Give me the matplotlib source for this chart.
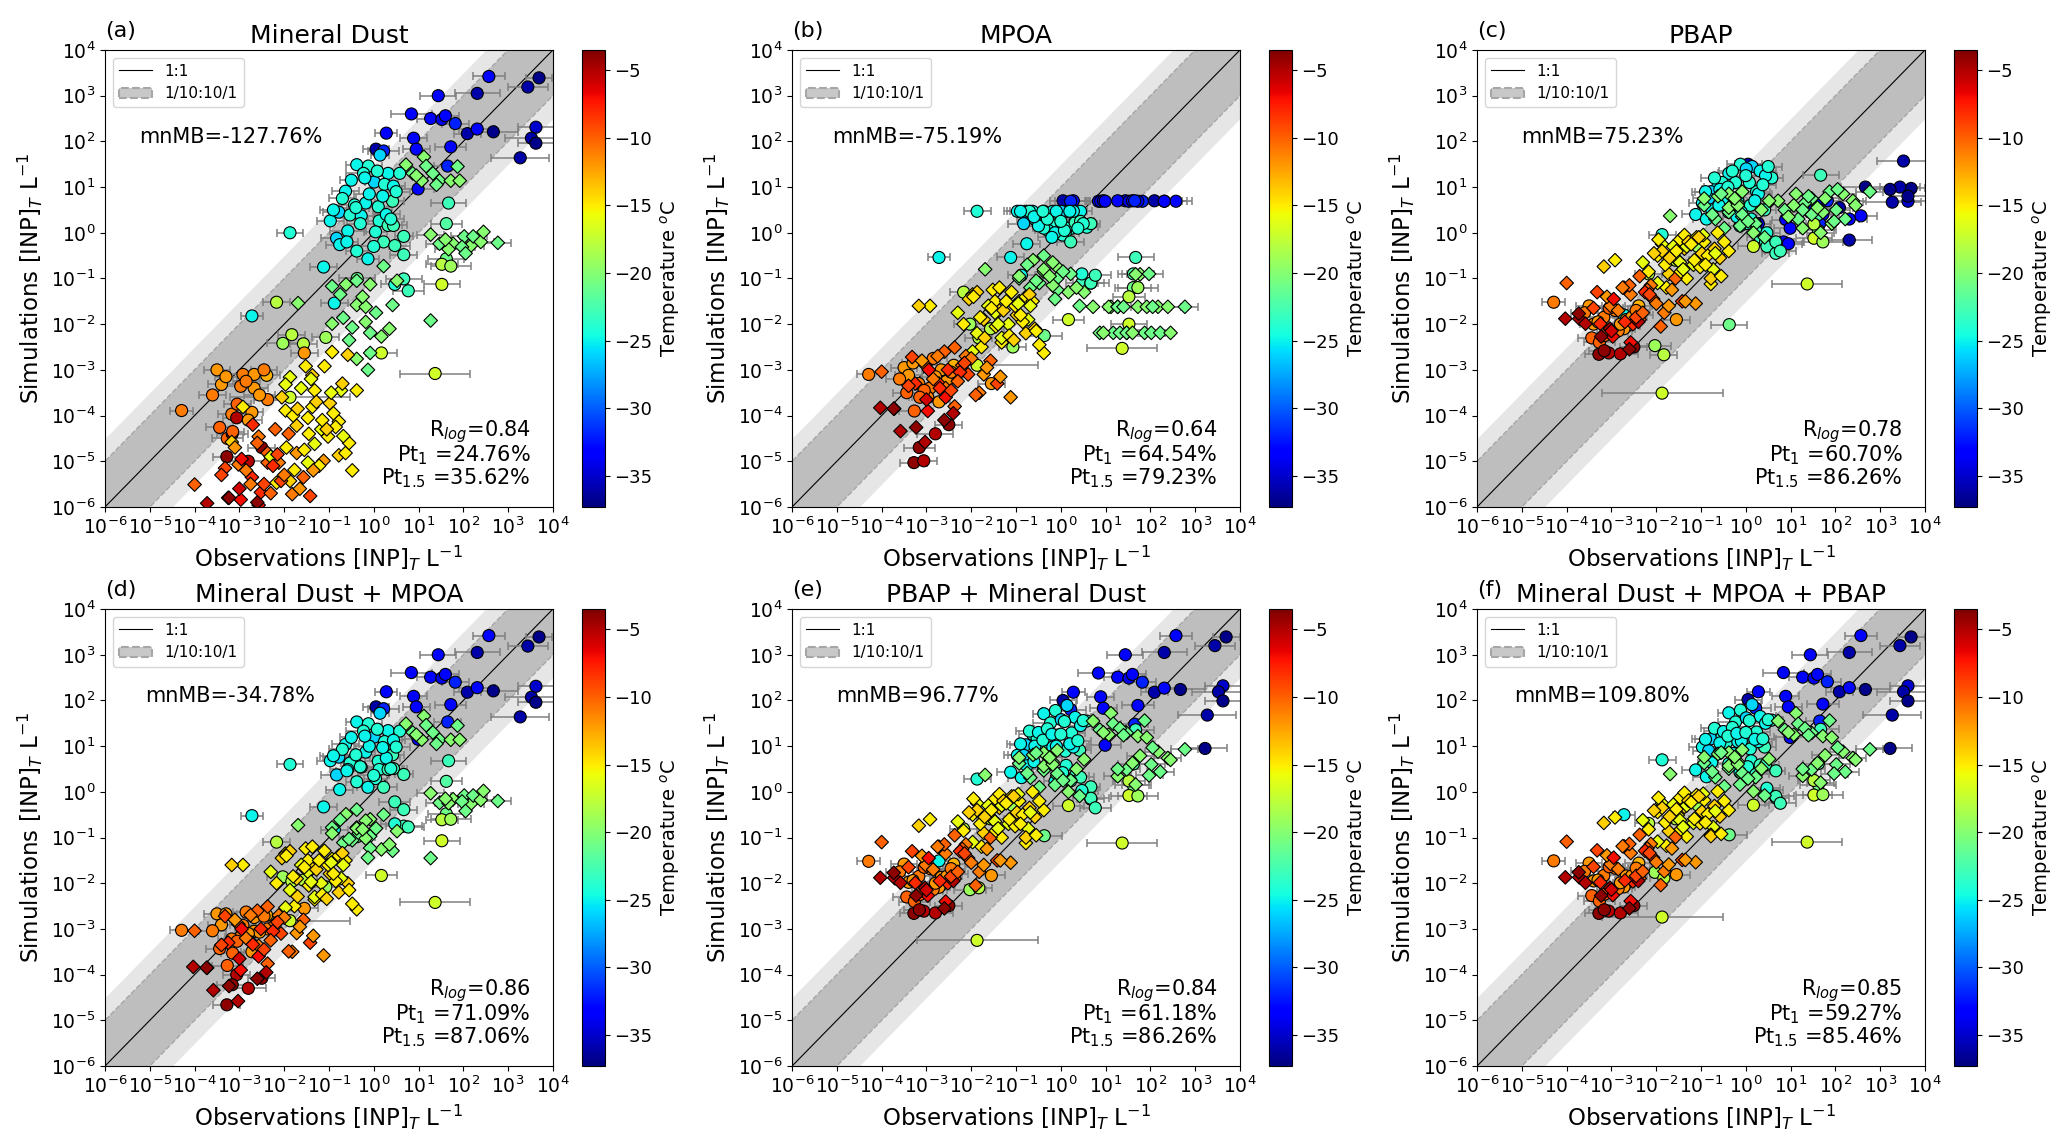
import numpy as np
import matplotlib
matplotlib.use("Agg")
import matplotlib.pyplot as plt
from matplotlib.lines import Line2D
from matplotlib.patches import Patch
from matplotlib.colors import Normalize
from matplotlib.cm import ScalarMappable
from matplotlib.ticker import FixedLocator, NullLocator, LogFormatterSciNotation

nan = np.nan

# ============================================================
# DATA  (log10 values; same observations in all panels)
# groups: blue circles, cyan circles, green diamonds, yellow-green circles,
#         yellow diamonds, orange circles, orange/red diamonds, dark red,
#         then extra yellow / orange diamonds, cyan / orange circles, green diamonds
# ============================================================
obs_log10 = [
    2.57, 3.69, 3.44, 2.31, 1.44, 0.84, 3.62, 3.52, 3.62, 3.27,
    2.67, 2.09, 2.31, 1.27, 1.52, 1.60, 1.82, 0.28, 0.89, 0.05,
    0.22, 0.95, 1.72, 1.65, 0.99, 3.22,
    -0.38, -0.12, 0.14, 0.32, 0.58, -0.63, -0.23, 0.01, 0.24, 0.44,
    -0.43, -0.18, 0.10, 0.42, -0.97, -0.78, -0.53, -0.28, 0.12, 0.32,
    -0.58, 0.04, 0.44, 0.67, -0.83, -0.76, -0.38, 0.22, 0.47, 0.67,
    -0.13, -1.12, 0.67, 0.47, 0.77, -0.88, -1.87, -2.72, 1.67, 1.62,
    1.62,
    0.72, 0.87, 1.12, 1.17, 1.07, 1.47, 1.72, 1.87, 1.92, 1.32,
    1.27, 1.47, 1.77, 2.02, 2.17, 2.22, 2.39, 2.77, 1.67, 1.97,
    -0.93, -0.62, -0.38, -0.08, 0.22, 0.52, 0.42, -0.38, -0.68, -0.93,
    -0.48, -0.18, -0.08, 0.17, -0.08, -0.38, -0.13, -1.69, 1.27, -0.18,
    -2.17, -2.03, -1.83, -1.57, -1.07, 0.17, 1.37, 1.52, 1.52, 1.72, -1.87, -0.37,
    -0.93, -0.58, -0.38, -0.73, -1.10, -1.37, -1.52, -1.87, -1.32, -0.98,
    -0.78, -1.17, -1.47, -1.72, -1.97, -1.32, -1.02, -0.78, -0.63, -1.47,
    -1.77, -1.87, -2.17, -2.92, -3.17, -1.97, -1.37,
    -3.50, -4.29, -3.40, -2.92, -2.67, -2.39, -2.97, -2.67, -2.37, -3.44, -3.17, -2.72, -3.27, -1.55,
    -4.00, -3.32, -3.02, -2.72, -2.37, -2.07, -1.82, -1.57, -1.42, -2.52,
    -2.57, -2.37, -2.12, -1.72, -1.12, -2.97, -3.25, -3.72, -2.57, -2.20,
    -4.03, -3.73, -3.58, -3.23, -3.03, -2.60, -2.40, -3.28, -3.06, -3.16, -2.80, -2.50,
    -2.05, -1.80, -1.62, -1.45, -1.28, -1.15, -0.95, -0.85, -0.70, -0.55,
    -2.30, -1.95, -1.70, -1.55, -1.40, -1.22, -1.05, -0.90, -0.68, -0.48,
    -3.10, -2.85, -2.60, -2.45, -2.25, -2.00, -1.90, -1.65, -3.40, -2.95,
    -2.75, -2.30, -3.00, -2.15, -1.35, -2.70,
    -0.70, -0.50, -0.30, -0.10, 0.08, 0.28, 0.50, -0.60, -0.40, -0.20, 0.00, 0.20, 0.38, -0.90,
    -3.60, -3.30, -3.05, -2.85, -2.55, -2.45, -3.15, -2.80,
    0.95, 1.40, 1.60, 2.05, 2.45, -0.75, -0.25, 0.05, 0.35, -0.55,
]

# half width of the horizontal error bar, in decades
xerr_dec = [
    0.35, 0.30, 0.45, 0.50, 0.40, 0.45, 0.40, 0.60, 0.40, 0.65,
    0.55, 0.30, 0.40, 0.30, 0.35, 0.30, 0.30, 0.25, 0.30, 0.30,
    0.35, 0.30, 0.35, 0.30, 0.35, 0.50,
    0.25, 0.30, 0.20, 0.35, 0.25, 0.30, 0.40, 0.20, 0.30, 0.25,
    0.35, 0.20, 0.30, 0.25, 0.30, 0.35, 0.20, 0.30, 0.25, 0.30,
    0.40, 0.25, 0.30, 0.20, 0.35, 0.30, 0.25, 0.30, 0.35, 0.30,
    0.25, 0.30, 0.40, 0.30, 0.35, 0.30, 0.30, 0.25, 0.40, 0.35,
    0.40,
    0, 0, 0, 0, 0, 0, 0, 0, 0, 0,
    0.30, 0.30, 0.30, 0.30, 0.30, 0.30, 0.30, 0.30, 0.30, 0.30,
    0, 0, 0, 0, 0, 0, 0, 0, 0, 0,
    0, 0, 0, 0, 0, 0, 0, 0, 0, 0,
    0.30, 0.35, 0.30, 0.30, 0.30, 0.35, 0.78, 0.40, 0.35, 0.45, 1.35, 0.40,
    0, 0, 0, 0, 0, 0, 0, 0, 0, 0,
    0, 0, 0, 0, 0, 0, 0, 0, 0, 0,
    0, 0, 0, 0, 0, 0, 0,
    0.30, 0.25, 0.30, 0.30, 0.25, 0.30, 0.35, 0.30, 0.30, 0.30, 0.30, 0.25, 0.35, 0.30,
    0, 0, 0, 0, 0, 0, 0, 0, 0, 0,
    0, 0, 0, 0, 0, 0, 0, 0, 0, 0,
    0, 0, 0, 0, 0, 0, 0, 0.30, 0.30, 0.35, 0.40, 0.30,
    0, 0, 0, 0, 0, 0, 0, 0, 0, 0,
    0, 0, 0, 0, 0, 0, 0, 0, 0, 0,
    0, 0, 0, 0, 0, 0, 0, 0, 0, 0,
    0, 0, 0, 0, 0, 0,
    0.30, 0.25, 0.30, 0.35, 0.25, 0.30, 0.30, 0.25, 0.30, 0.30, 0.35, 0.25, 0.30, 0.30,
    0.30, 0.25, 0.30, 0.30, 0.35, 0.30, 0.25, 0.30,
    0, 0, 0, 0, 0, 0, 0, 0, 0, 0,
]

temperature = [
    -33, -37, -36, -36, -33, -33, -35, -36, -37, -36,
    -37, -36, -33, -33, -34, -33, -32, -33, -33, -36,
    -32, -33, -33, -32, -33, -37,
    -25, -24, -26, -25, -24, -25, -24, -26, -24, -25,
    -24, -25, -24, -23, -25, -26, -24, -25, -24, -23,
    -25, -24, -23, -23, -26, -25, -24, -23, -23, -23,
    -25, -25, -23, -24, -23, -25, -24, -25, -23, -22,
    -21,
    -20, -21, -20, -21, -20, -21, -20, -21, -20, -21,
    -20, -21, -20, -21, -20, -21, -20, -21, -20, -21,
    -21, -20, -21, -20, -21, -20, -21, -20, -21, -20,
    -21, -20, -21, -20, -21, -20, -21, -20, -21, -20,
    -18, -19, -18, -18, -19, -17, -17, -17, -18, -19, -17, -21,
    -15, -14, -15, -16, -15, -14, -15, -16, -15, -14,
    -15, -16, -15, -14, -15, -16, -15, -14, -15, -16,
    -15, -14, -15, -15, -14, -16, -15,
    -12, -11, -12, -11, -12, -13, -11, -12, -11, -10, -11, -12, -10, -12,
    -10, -9, -11, -8, -10, -9, -11, -10, -9, -8,
    -11, -10, -11, -12, -12, -7, -8, -5, -7, -10,
    -5, -4, -5, -4, -5, -4, -5, -4, -5, -4, -5, -4,
    -14, -15, -16, -15, -14, -15, -16, -15, -14, -15,
    -16, -15, -14, -15, -16, -15, -14, -15, -16, -15,
    -12, -11, -10, -9, -8, -11, -10, -12, -9, -7,
    -11, -10, -6, -9, -12, -8,
    -24, -25, -24, -25, -24, -25, -24, -25, -24, -25, -24, -25, -24, -25,
    -11, -12, -10, -11, -12, -11, -10, -12,
    -20, -21, -20, -21, -20, -21, -20, -21, -20, -21,
]

# 'o' and 'D' are the two observation data sets
marker = (['o'] * 26 + ['o'] * 41 + ['D'] * 40 + ['o'] * 12 + ['D'] * 27
          + ['o'] * 14 + ['D'] * 20 + ['D'] * 7 + ['o'] * 5
          + ['D'] * 20 + ['D'] * 16 + ['o'] * 14 + ['o'] * 8 + ['D'] * 10)

sim_md = [
    3.42, 3.39, 3.19, 3.05, 3.00, 2.60, 2.31, 2.07, 1.96, 1.64,
    2.21, 2.17, 2.27, 2.50, 2.48, 2.56, 2.39, 2.18, 2.07, 1.83,
    1.79, 1.83, 1.88, 1.46, 0.96, nan,
    1.49, 1.46, 1.70, 1.30, 1.30, 0.91, 1.30, 1.11, 1.06, 1.02,
    0.61, 0.65, 0.57, 0.69, 0.26, 0.45, 0.39, 0.37, 0.26, 0.16,
    0.04, 0.02, 0.16, -0.08, -0.12, -0.26, -0.40, -0.20, -0.28, -0.48,
    -0.57, -0.75, -1.01, -1.13, -1.27, -1.54, 0.00, -1.82, 0.65, 0.20,
    -0.57,
    1.49, 1.30, 1.66, 1.46, 1.14, 1.14, 1.14, 1.45, 1.14, 1.30,
    -0.04, -0.24, -0.24, -0.08, -0.28, -0.08, -0.20, -0.22, -0.36, -0.31,
    -1.17, -1.13, -1.05, -1.13, -0.73, -1.05, -1.58, -1.58, -1.86, -1.99,
    -2.07, -1.95, -2.19, -2.27, -2.63, -2.76, -3.00, -1.54, -1.92, -1.62,
    -1.52, -2.42, -2.23, -2.43, -2.29, -2.63, -3.08, -1.13, -0.69, -0.73, -3.60, -1.00,
    -2.61, -2.67, -3.45, -3.45, -2.92, -3.12, -2.92, -3.16, -3.45, -3.73,
    -4.13, -4.30, -4.05, -4.22, -3.89, -4.62, -4.46, -4.87, -4.82, -5.03,
    -5.19, -5.43, -5.47, -3.81, -4.58, -3.32, -3.81,
    -3.00, -3.89, -3.32, -3.10, -3.10, -3.12, -3.36, -3.40, -3.65, -4.26, -3.97, -3.93, -4.50, -2.63,
    -5.51, -5.15, -5.07, -5.35, -5.03, -5.43, -5.72, -5.35, -5.76, -5.68,
    -4.46, -4.82, -5.03, -4.82, -4.99, -5.84, -5.80, -5.92, -5.96, -4.30,
    nan, nan, nan, -5.80, nan, -5.90, nan, -4.90, -4.05, -4.40, -5.00, -4.70,
    -3.60, -4.00, -3.40, -4.40, -3.70, -4.10, -3.50, -4.25, -3.30, -4.60,
    -4.90, -4.70, -3.85, -4.75, -3.20, -5.10, -4.30, -3.95, -4.45, -5.20,
    -4.70, -5.20, -4.60, -5.50, -5.10, -5.30, -4.40, -5.60, -5.30, -4.95,
    -5.50, -5.70, -5.60, -4.85, -5.20, -4.20,
    0.75, 1.15, 0.20, 0.85, 1.35, 0.40, 0.90, -0.20, 0.55, 1.20, -0.30, 0.80, 0.30, 0.50,
    -3.55, -3.15, -3.75, -3.25, -3.55, -3.00, -4.35, -4.10,
    1.25, 1.05, -0.15, -0.45, 0.02, -1.35, -1.40, -1.75, -2.10, -2.35,
]

sim_mpoa = [
    0.69, nan, nan, 0.69, 0.70, 0.69, nan, nan, nan, nan,
    nan, 0.70, 0.69, 0.70, 0.69, 0.70, 0.69, 0.70, 0.69, 0.70,
    0.69, 0.70, 0.69, 0.70, 0.69, nan,
    0.47, 0.30, 0.47, 0.25, 0.12, 0.47, 0.20, 0.47, 0.10, 0.47,
    0.15, 0.47, 0.00, 0.20, 0.47, 0.47, 0.25, 0.05, 0.10, 0.22,
    0.30, -0.05, 0.25, 0.20, 0.20, -0.24, 0.10, -0.20, -1.10, -1.10,
    0.00, -0.54, -1.10, -0.90, -0.93, -0.93, 0.47, -0.54, -0.54, -0.90,
    -1.20,
    -1.62, -2.19, -1.62, -2.19, -1.62, -2.19, -1.62, -2.19, -1.62, -2.19,
    -1.62, -2.19, -0.91, -2.19, -1.62, -2.19, -1.62, -1.62, -0.91, -0.90,
    -1.00, -0.60, -0.50, -0.75, -0.90, -1.30, -1.60, -0.85, -1.20, -0.95,
    -1.10, -0.65, -1.00, -1.30, -1.25, -0.80, -1.45, -0.80, -1.62, -1.15,
    -1.30, -2.00, -2.30, -2.10, -2.50, -1.90, -2.53, -2.00, -1.40, -1.20, -2.90, -2.25,
    -1.50, -2.10, -2.63, -1.90, -1.30, -1.70, -1.25, -2.20, -2.40, -1.80,
    -1.40, -2.00, -1.50, -1.90, -1.35, -2.30, -1.60, -2.20, -1.50, -1.75,
    -2.50, -1.30, -2.00, -1.60, -1.60, -2.60, -1.20,
    -2.95, -3.10, -3.12, -3.40, -3.00, -2.90, -3.60, -3.30, -3.10, -3.50, -3.30, -3.70, -3.90, -3.30,
    -3.04, -2.72, -2.90, -3.30, -2.51, -3.10, -3.50, -2.80, -3.30, -3.00,
    -3.40, -3.80, -2.70, -3.10, -3.60, -3.90, -3.30, -3.85, -3.60, -2.90,
    -3.83, -3.85, -4.34, -4.26, -4.58, -4.10, -3.95, -5.03, -4.99, -4.70, -4.40, -4.20,
    -1.45, -1.85, -1.60, -2.05, -1.70, -2.25, -1.55, -1.95, -1.35, -2.15,
    -1.75, -1.40, -2.30, -1.65, -2.00, -1.50, -2.35, -1.80, -1.60, -2.45,
    -2.80, -3.20, -2.60, -3.45, -3.05, -2.75, -3.55, -2.95, -3.35, -3.00,
    -2.70, -3.25, -3.65, -2.85, -3.15, -3.40,
    0.47, 0.15, 0.30, 0.47, 0.05, 0.47, 0.20, 0.35, 0.47, -0.10, 0.25, 0.47, 0.10, 0.47,
    -3.20, -2.85, -3.45, -2.75, -3.25, -3.05, -3.60, -3.15,
    -2.19, -1.62, -2.19, -1.62, -2.19, -0.70, -0.95, -0.85, -1.20, -1.05,
]

sim_pbap = [
    0.37, 0.97, 1.00, -0.16, 0.45, -0.20, 0.69, 1.57, 0.80, 0.67,
    1.00, 0.55, 0.30, 0.53, 0.50, 0.63, 0.70, 0.20, 0.29, 1.50,
    0.20, -0.24, 0.40, 0.20, 0.10, 0.95,
    1.30, 1.50, 1.45, 1.35, 1.20, 1.00, 1.10, 1.40, 0.90, 1.25,
    0.80, 0.70, 0.60, 0.50, 0.65, 0.90, 1.10, 0.55, 0.30, -0.10,
    0.95, 0.20, -0.20, -0.35, 0.75, 0.50, 0.45, 0.05, -0.30, -0.45,
    0.15, 0.40, -0.20, 0.00, -0.40, 0.30, -0.04, -1.80, 1.26, 0.40,
    0.05,
    0.70, 0.50, 0.85, 0.30, 0.60, 0.75, 0.45, 0.90, 0.20, 0.65,
    0.10, 0.40, 0.75, 0.50, 0.85, 0.30, 0.70, 0.90, 0.00, 0.25,
    0.60, 0.80, 0.45, 0.90, 0.20, 0.70, -0.10, 0.55, 0.30, 0.75,
    0.10, 0.65, 0.35, 0.00, 0.40, 0.85, 0.15, 0.37, 0.50, 0.60,
    -0.90, -2.47, -2.67, -0.60, -0.30, -0.30, -1.12, -0.12, 0.19, -0.20, -3.51, -2.01,
    -0.20, -0.55, -0.40, -0.80, -0.10, -0.35, -0.60, -0.25, -1.00, -0.45,
    -1.12, -0.70, -0.15, -0.90, -0.50, -0.30, -0.75, -1.00, 0.00, -0.65,
    -1.20, -0.40, -0.85, -0.60, -0.74, -1.10, -0.05,
    -1.60, -1.52, -2.00, -1.70, -1.90, -1.60, -2.20, -2.05, -1.80, -2.30, -1.85, -2.10, -2.40, -1.90,
    -1.10, -1.30, -1.60, -1.20, -0.95, -1.45, -1.75, -1.00, -1.50, -2.00,
    -1.35, -1.90, -1.15, -1.60, -1.55, -2.27, -1.99, -1.88, -2.40, -1.25,
    -1.88, -1.77, -1.99, -2.27, -2.10, -2.55, -1.95, -2.66, -2.63, -2.58, -2.65, -2.50,
    -0.45, -0.70, -0.30, -0.85, -0.20, -0.60, -0.05, -0.50, -0.35, -0.95,
    -0.65, -0.15, -0.55, -0.40, -0.80, -0.25, -0.10, -0.70, -0.45, -0.20,
    -1.40, -1.70, -1.15, -1.85, -1.30, -1.55, -2.05, -1.25, -1.65, -1.45,
    -1.20, -1.75, -2.15, -1.35, -1.50, -1.95,
    1.20, 0.75, 1.35, 0.45, 1.10, 0.85, 1.45, 0.60, 1.00, 0.35, 1.25, 0.70, 1.05, 0.90,
    -1.75, -1.95, -1.65, -2.15, -1.85, -1.70, -2.25, -2.00,
    0.35, 0.80, 0.55, 0.95, 0.60, 0.40, 0.75, 0.25, 0.50, 0.85,
]

sim_md_mpoa = [
    3.42, 3.39, 3.19, 3.05, 3.00, 2.61, 2.31, 2.07, 1.96, 1.64,
    2.21, 2.18, 2.28, 2.51, 2.49, 2.57, 2.40, 2.19, 2.09, 1.86,
    1.82, 1.86, 1.91, 1.53, 1.15, nan,
    1.53, 1.49, 1.72, 1.34, 1.33, 1.04, 1.33, 1.20, 1.10, 1.13,
    0.74, 0.87, 0.67, 0.81, 0.68, 0.76, 0.63, 0.54, 0.49, 0.49,
    0.49, 0.29, 0.51, 0.38, 0.37, 0.05, 0.22, 0.10, -0.22, -0.39,
    0.10, -0.33, -0.75, -0.70, -0.77, -0.83, 0.60, -0.52, 0.68, 0.23,
    -0.48,
    1.49, 1.30, 1.66, 1.46, 1.14, 1.14, 1.14, 1.45, 1.14, 1.30,
    -0.03, -0.24, -0.16, -0.08, -0.26, -0.08, -0.18, -0.20, -0.25, -0.21,
    -0.78, -0.49, -0.39, -0.60, -0.50, -0.86, -1.29, -0.78, -1.11, -0.91,
    -1.06, -0.63, -0.97, -1.26, -1.23, -0.80, -1.44, -0.73, -1.45, -1.02,
    -1.10, -1.86, -1.96, -1.93, -2.08, -1.83, -2.42, -1.07, -0.61, -0.60, -2.82, -0.98,
    -1.47, -2.00, -2.57, -1.89, -1.29, -1.68, -1.24, -2.15, -2.36, -1.79,
    -1.40, -2.00, -1.50, -1.90, -1.35, -2.30, -1.60, -2.20, -1.50, -1.75,
    -2.50, -1.30, -2.00, -1.60, -1.60, -2.53, -1.20,
    -2.67, -3.03, -2.91, -2.92, -2.75, -2.70, -3.17, -3.05, -3.00, -3.43, -3.22, -3.50, -3.80, -2.55,
    -3.04, -2.72, -2.90, -3.30, -2.51, -3.10, -3.50, -2.80, -3.30, -3.00,
    -3.37, -3.76, -2.70, -3.09, -3.58, -3.90, -3.30, -3.85, -3.60, -2.88,
    -3.83, -3.85, -4.34, -4.25, -4.58, -4.09, -3.95, -4.66, -4.00, -4.22, -4.30, -4.08,
    -1.45, -1.85, -1.60, -2.05, -1.70, -2.25, -1.55, -1.95, -1.34, -2.15,
    -1.75, -1.40, -2.29, -1.65, -1.97, -1.50, -2.34, -1.79, -1.60, -2.45,
    -2.80, -3.20, -2.60, -3.45, -3.05, -2.75, -3.49, -2.95, -3.35, -3.00,
    -2.70, -3.25, -3.65, -2.85, -3.15, -3.34,
    0.93, 1.19, 0.55, 1.00, 1.37, 0.74, 0.98, 0.46, 0.81, 1.22, 0.36, 0.97, 0.51, 0.79,
    -3.04, -2.67, -3.27, -2.63, -3.07, -2.72, -3.53, -3.10,
    1.25, 1.05, -0.15, -0.42, 0.02, -0.61, -0.82, -0.80, -1.15, -1.03,
]

sim_pbap_md = [
    3.42, 3.39, 3.20, 3.05, 3.00, 2.60, 2.32, 2.19, 1.99, 1.68,
    2.24, 2.18, 2.27, 2.51, 2.49, 2.57, 2.40, 2.18, 2.08, 2.00,
    1.80, 1.83, 1.89, 1.48, 1.02, 0.95,
    1.71, 1.78, 1.89, 1.63, 1.55, 1.26, 1.51, 1.58, 1.29, 1.45,
    1.02, 0.98, 0.89, 0.91, 0.80, 1.03, 1.18, 0.77, 0.58, 0.35,
    1.00, 0.42, 0.32, 0.11, 0.80, 0.57, 0.51, 0.24, 0.01, -0.16,
    0.23, 0.43, -0.14, 0.03, -0.35, 0.31, 0.28, -1.51, 1.36, 0.61,
    0.14,
    1.55, 1.36, 1.72, 1.49, 1.25, 1.29, 1.22, 1.56, 1.19, 1.39,
    0.34, 0.49, 0.79, 0.60, 0.88, 0.44, 0.74, 0.93, 0.16, 0.36,
    0.62, 0.81, 0.47, 0.91, 0.25, 0.71, -0.09, 0.56, 0.31, 0.75,
    0.10, 0.65, 0.35, 0.00, 0.40, 0.85, 0.15, 0.37, 0.50, 0.60,
    -0.81, -2.14, -2.10, -0.59, -0.30, -0.30, -1.12, -0.08, 0.24, -0.09, -3.25, -0.96,
    -0.20, -0.55, -0.40, -0.80, -0.10, -0.35, -0.60, -0.25, -1.00, -0.45,
    -1.12, -0.70, -0.15, -0.90, -0.50, -0.30, -0.75, -1.00, 0.00, -0.65,
    -1.20, -0.40, -0.85, -0.60, -0.74, -1.10, -0.05,
    -1.58, -1.52, -1.98, -1.68, -1.87, -1.58, -2.17, -2.03, -1.79, -2.30, -1.85, -2.09, -2.40, -1.83,
    -1.10, -1.30, -1.60, -1.20, -0.95, -1.45, -1.75, -1.00, -1.50, -2.00,
    -1.35, -1.90, -1.15, -1.60, -1.55, -2.27, -1.99, -1.88, -2.40, -1.25,
    -1.88, -1.77, -1.99, -2.27, -2.10, -2.55, -1.95, -2.66, -2.61, -2.58, -2.65, -2.49,
    -0.45, -0.70, -0.30, -0.85, -0.20, -0.60, -0.05, -0.50, -0.35, -0.95,
    -0.65, -0.15, -0.55, -0.40, -0.80, -0.25, -0.10, -0.70, -0.45, -0.20,
    -1.40, -1.70, -1.15, -1.85, -1.30, -1.55, -2.05, -1.25, -1.65, -1.45,
    -1.20, -1.75, -2.15, -1.35, -1.50, -1.95,
    1.33, 1.30, 1.38, 1.00, 1.54, 0.98, 1.56, 0.66, 1.13, 1.26, 1.26, 1.05, 1.12, 1.05,
    -1.75, -1.94, -1.65, -2.14, -1.85, -1.68, -2.25, -2.00,
    1.30, 1.24, 0.63, 0.97, 0.70, 0.41, 0.75, 0.25, 0.50, 0.85,
]

sim_all = [
    3.42, 3.39, 3.20, 3.05, 3.00, 2.61, 2.32, 2.19, 1.99, 1.68,
    2.24, 2.19, 2.28, 2.51, 2.49, 2.57, 2.41, 2.19, 2.09, 2.02,
    1.83, 1.86, 1.92, 1.55, 1.19, 0.95,
    1.73, 1.79, 1.91, 1.65, 1.57, 1.33, 1.53, 1.62, 1.31, 1.50,
    1.08, 1.10, 0.94, 0.98, 0.98, 1.16, 1.22, 0.84, 0.68, 0.59,
    1.07, 0.55, 0.59, 0.46, 0.90, 0.64, 0.62, 0.38, 0.03, -0.13,
    0.43, 0.48, -0.10, 0.08, -0.25, 0.33, 0.70, -0.50, 1.37, 0.62,
    0.16,
    1.55, 1.36, 1.72, 1.49, 1.25, 1.29, 1.22, 1.56, 1.19, 1.39,
    0.35, 0.49, 0.80, 0.60, 0.88, 0.44, 0.74, 0.93, 0.20, 0.40,
    0.63, 0.83, 0.51, 0.92, 0.32, 0.72, -0.08, 0.57, 0.32, 0.76,
    0.12, 0.66, 0.36, 0.01, 0.41, 0.86, 0.16, 0.39, 0.50, 0.61,
    -0.69, -1.76, -1.89, -0.59, -0.29, -0.29, -1.10, -0.07, 0.25, -0.06, -2.74, -0.94,
    -0.18, -0.54, -0.40, -0.77, -0.07, -0.33, -0.51, -0.25, -0.98, -0.43,
    -0.94, -0.68, -0.13, -0.86, -0.44, -0.30, -0.69, -0.97, 0.01, -0.62,
    -1.18, -0.35, -0.82, -0.56, -0.68, -1.09, -0.02,
    -1.56, -1.51, -1.95, -1.67, -1.84, -1.56, -2.15, -2.00, -1.77, -2.27, -1.83, -2.08, -2.39, -1.81,
    -1.09, -1.28, -1.58, -1.19, -0.94, -1.44, -1.74, -0.99, -1.49, -1.96,
    -1.34, -1.89, -1.14, -1.59, -1.54, -2.26, -1.98, -1.87, -2.39, -1.24,
    -1.87, -1.76, -1.99, -2.27, -2.10, -2.55, -1.95, -2.66, -2.61, -2.58, -2.65, -2.49,
    -0.41, -0.67, -0.28, -0.82, -0.19, -0.59, -0.04, -0.49, -0.31, -0.92,
    -0.62, -0.13, -0.54, -0.38, -0.77, -0.23, -0.10, -0.67, -0.42, -0.20,
    -1.39, -1.69, -1.14, -1.84, -1.29, -1.54, -2.04, -1.24, -1.64, -1.44,
    -1.19, -1.74, -2.14, -1.34, -1.49, -1.94,
    1.39, 1.32, 1.41, 1.11, 1.56, 1.10, 1.58, 0.84, 1.22, 1.28, 1.30, 1.15, 1.16, 1.15,
    -1.74, -1.93, -1.64, -2.12, -1.84, -1.67, -2.24, -1.99,
    1.30, 1.24, 0.63, 0.97, 0.70, 0.44, 0.76, 0.29, 0.51, 0.86,
]

titles = ["Mineral Dust", "MPOA", "PBAP",
          "Mineral Dust + MPOA", "PBAP + Mineral Dust", "Mineral Dust + MPOA + PBAP"]
letters = ["(a)", "(b)", "(c)", "(d)", "(e)", "(f)"]
mnmb = ["-127.76%", "-75.19%", "75.23%", "-34.78%", "96.77%", "109.80%"]
r_log = ["0.84", "0.64", "0.78", "0.86", "0.84", "0.85"]
pt_1 = ["24.76%", "64.54%", "60.70%", "71.09%", "61.18%", "59.27%"]
pt_15 = ["35.62%", "79.23%", "86.26%", "87.06%", "86.26%", "85.46%"]
sims = [sim_md, sim_mpoa, sim_pbap, sim_md_mpoa, sim_pbap_md, sim_all]

n = len(obs_log10)
for arr in [xerr_dec, temperature, marker] + sims:
    assert len(arr) == n, len(arr)

# ============================================================
# PLOT
# ============================================================
obs = 10.0 ** np.array(obs_log10)
xd = np.array(xerr_dec)
temp = np.array(temperature)
shape = np.array(marker)
err_lo = obs - obs / 10.0 ** xd
err_hi = obs * 10.0 ** xd - obs

norm = Normalize(vmin=-37.3, vmax=-3.5)
cmap = plt.get_cmap("jet")

fig = plt.figure(figsize=(20.67, 11.41), dpi=100)
lefts = [0.0508, 0.3832, 0.7146]
bottoms = [0.5557, 0.0657]
w, h = 0.2167, 0.4005
decades = 10.0 ** np.arange(-6, 5)
line = 10.0 ** np.array([-7.0, 5.0])

for k in range(6):
    l = lefts[k % 3]
    b = bottoms[k // 3]
    ax = fig.add_axes([l, b, w, h])
    ax.set_xscale("log")
    ax.set_yscale("log")

    ax.fill_between(line, line / 10 ** 1.5, line * 10 ** 1.5, color="#e6e6e6", lw=0, zorder=0)
    ax.fill_between(line, line / 10, line * 10, facecolor="#bebebe",
                    edgecolor="#a6a6a6", linestyle="--", lw=1.0, zorder=0.5)
    ax.plot(line, line, color="k", lw=0.8, zorder=1)

    y = 10.0 ** np.array(sims[k])
    ok = (xd > 0) & np.isfinite(y)
    ax.errorbar(obs[ok], y[ok], xerr=[err_lo[ok], err_hi[ok]], fmt="none",
                ecolor="#808080", elinewidth=1.1, capsize=3, capthick=1.1, zorder=2)
    for m, s in [("o", 75), ("D", 48)]:
        sel = shape == m
        ax.scatter(obs[sel], y[sel], c=temp[sel], cmap=cmap, norm=norm, marker=m,
                   s=s, edgecolors="k", linewidths=0.8, zorder=3)

    ax.set_xlim(1e-6, 1e4)
    ax.set_ylim(1e-6, 1e4)
    for axis in (ax.xaxis, ax.yaxis):
        axis.set_major_locator(FixedLocator(decades))
        axis.set_minor_locator(NullLocator())
        axis.set_major_formatter(LogFormatterSciNotation())
    ax.tick_params(labelsize=13.5)
    ax.set_xlabel(r"Observations [INP]$_T$ L$^{-1}$", fontsize=16.5)
    ax.set_ylabel(r"Simulations [INP]$_T$ L$^{-1}$", fontsize=16.5)
    ax.set_title(titles[k], fontsize=18, pad=5)
    ax.text(0.0, 1.02, letters[k], transform=ax.transAxes, fontsize=16,
            ha="left", va="bottom")

    handles = [Line2D([], [], color="k", lw=0.8),
               Patch(facecolor="#c8c8c8", edgecolor="#a6a6a6", linestyle="--", lw=1.5)]
    ax.legend(handles, ["1:1", "1/10:10/1"], loc="upper left", fontsize=11,
              handlelength=2.2)

    ax.text(0.28, 0.81, "mnMB=" + mnmb[k], transform=ax.transAxes, fontsize=15,
            ha="center", va="center")
    ax.text(0.95, 0.164, r"R$_{log}$=" + r_log[k], transform=ax.transAxes,
            fontsize=15, ha="right", va="center")
    ax.text(0.95, 0.113, r"Pt$_1$ =" + pt_1[k], transform=ax.transAxes,
            fontsize=15, ha="right", va="center")
    ax.text(0.95, 0.063, r"Pt$_{1.5}$ =" + pt_15[k], transform=ax.transAxes,
            fontsize=15, ha="right", va="center")

    cax = fig.add_axes([l + w + 0.0140, b, 0.0111, h])
    cb = fig.colorbar(ScalarMappable(norm=norm, cmap=cmap), cax=cax)
    cb.set_ticks([-5, -10, -15, -20, -25, -30, -35])
    cb.ax.tick_params(labelsize=13)
    cb.set_label(r"Temperature $^o$C", fontsize=14)

fig.savefig("out.png", dpi=100)
plt.close(fig)
